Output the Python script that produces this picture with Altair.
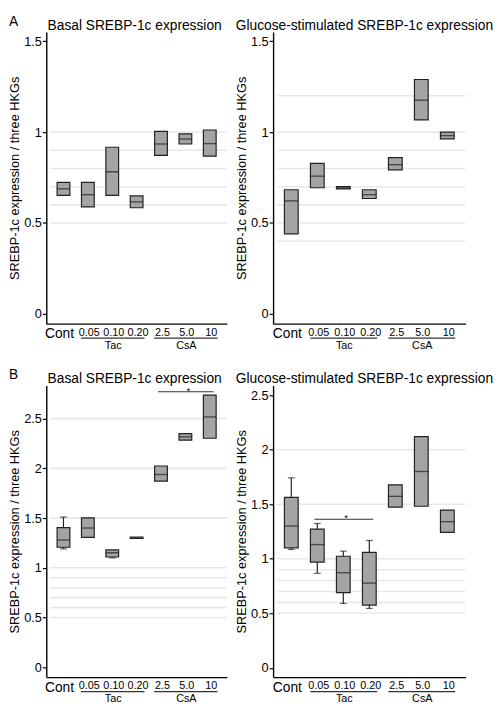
import altair as alt
import pandas as pd

FONT = "Liberation Sans"

categories = ["Cont", "0.05", "0.10", "0.20", "2.5", "5.0", "10"]
dose_labels = ["0.05", "0.10", "0.20", "2.5", "5.0", "10"]
group_names = ["Tac", "CsA"]
group_start = ["0.05", "2.5"]
group_mid = ["0.10", "5.0"]
group_end = ["0.20", "10"]

y_title = "SREBP-1c expression / three HKGs"

# Panel A - basal
a_basal_lower = [0.652, 0.589, 0.652, 0.584, 0.872, 0.935, 0.868]
a_basal_median = [0.688, 0.656, 0.782, 0.616, 0.935, 0.962, 0.937]
a_basal_upper = [0.724, 0.724, 0.917, 0.649, 1.004, 0.991, 1.012]
a_basal_wlo = [None] * 7
a_basal_whi = [None] * 7

# Panel A - glucose-stimulated
a_gluc_lower = [0.440, 0.694, 0.688, 0.635, 0.792, 1.068, 0.963]
a_gluc_median = [0.622, 0.758, 0.693, 0.656, 0.821, 1.176, 0.981]
a_gluc_upper = [0.683, 0.828, 0.700, 0.683, 0.860, 1.290, 1.000]
a_gluc_wlo = [None] * 7
a_gluc_whi = [None] * 7

# Panel B - basal
b_basal_lower = [1.207, 1.306, 1.109, 1.295, 1.872, 2.284, 2.303]
b_basal_median = [1.280, 1.400, 1.152, 1.300, 1.938, 2.317, 2.517]
b_basal_upper = [1.405, 1.503, 1.180, 1.310, 2.024, 2.350, 2.737]
b_basal_wlo = [1.190, None, 1.100, None, None, None, None]
b_basal_whi = [1.510, None, None, None, None, None, None]

# Panel B - glucose-stimulated
b_gluc_lower = [1.100, 0.969, 0.690, 0.575, 1.473, 1.481, 1.241]
b_gluc_median = [1.300, 1.130, 0.872, 0.777, 1.572, 1.800, 1.340]
b_gluc_upper = [1.562, 1.272, 1.023, 1.058, 1.677, 2.120, 1.446]
b_gluc_wlo = [1.085, 0.866, 0.590, 0.545, None, None, None]
b_gluc_whi = [1.742, 1.323, 1.070, 1.167, None, None, None]

# Significance bars (start, end, y)
b_basal_sig = ("2.5", "10", 2.77)
b_gluc_sig = ("0.05", "0.20", 1.362)

ticks_a = [0, 0.5, 1, 1.5]
ticks_b = [0, 0.5, 1, 1.5, 2, 2.5]
grid_a_basal = [0.5, 0.6, 0.7, 0.8, 0.9, 1.0]
grid_a_gluc = [0.4, 0.5, 0.6, 0.7, 0.8, 0.9, 1.0, 1.2]
grid_b_basal = [0.5, 0.6, 0.7, 0.8, 0.9, 1.0, 1.5, 2.0, 2.5]
grid_b_gluc = [0.5, 0.6, 0.7, 0.8, 0.9, 1.0, 1.5, 2.0]

H = 297
BOX_FILL = "#a4a4a4"
DARK = "#222222"


def panel(title, lower, median, upper, wlo, whi, ydomain, yticks, grid, width,
          pad, boxw, letter=None, sig=None, title_dx=0):
    df = pd.DataFrame({"cat": categories, "lower": lower, "median": median, "upper": upper})
    xs = alt.Scale(type="point", domain=categories, padding=pad)
    ys = alt.Scale(domain=ydomain, nice=False, zero=False)
    xax = alt.Axis(labels=False, ticks=False, title=None, grid=False,
                   domainColor="black", domainWidth=1.4)
    yax = alt.Axis(values=yticks, format="~g", title=y_title, grid=False,
                   tickSize=4, tickColor="black", tickWidth=1.2,
                   domainColor="black", domainWidth=1.4,
                   labelFont=FONT, labelFontSize=13, labelColor="black", labelPadding=1,
                   titleFont=FONT, titleFontSize=13, titleFontWeight="normal",
                   titleColor="black", titlePadding=2)

    def X(field):
        return alt.X(field, type="nominal", scale=xs, axis=xax)

    def Y(field):
        return alt.Y(field, type="quantitative", scale=ys, axis=yax)

    grid_df = pd.DataFrame({"g": grid})
    layers = [
        alt.Chart(grid_df).mark_rule(color="#e8e8e8", strokeWidth=1.6).encode(
            x=alt.value(4), x2=alt.value(width), y=Y("g")),
        alt.Chart(df).mark_point(opacity=0).encode(x=X("cat"), y=Y("median")),
    ]

    hi_df = pd.DataFrame({"cat": categories, "w": whi, "b": upper}).dropna()
    lo_df = pd.DataFrame({"cat": categories, "w": wlo, "b": lower}).dropna()
    for wdf in (hi_df, lo_df):
        if len(wdf):
            layers.append(alt.Chart(wdf).mark_rule(color=DARK, strokeWidth=1.2).encode(
                x=X("cat"), y=Y("w"), y2="b:Q"))
            layers.append(alt.Chart(wdf).mark_tick(color=DARK, size=7, thickness=1.2).encode(
                x=X("cat"), y=Y("w")))

    layers.append(alt.Chart(df).mark_bar(width=boxw, fill=BOX_FILL, stroke=DARK,
                                         strokeWidth=1.2).encode(
        x=X("cat"), y=Y("lower"), y2="upper:Q"))
    layers.append(alt.Chart(df).mark_tick(color=DARK, size=boxw, thickness=1.4).encode(
        x=X("cat"), y=Y("median")))

    # category labels under the axis
    cont_df = pd.DataFrame({"cat": [categories[0]]})
    dose_df = pd.DataFrame({"cat": dose_labels})
    layers.append(alt.Chart(cont_df).mark_text(font=FONT, fontSize=14, color="black",
                                               baseline="alphabetic", dx=-4).encode(
        x=X("cat"), y=alt.value(H + 15), text="cat:N"))
    layers.append(alt.Chart(dose_df).mark_text(font=FONT, fontSize=11, color="black",
                                               baseline="alphabetic", dx=1.5).encode(
        x=X("cat"), y=alt.value(H + 12.5), text="cat:N"))
    grp_df = pd.DataFrame({"name": group_names, "start": group_start,
                           "mid": group_mid, "end": group_end})
    layers.append(alt.Chart(grp_df).mark_rule(color="#333333", strokeWidth=1.3,
                                              xOffset=-7, x2Offset=8).encode(
        x=X("start"), x2="end:N", y=alt.value(H + 14.7)))
    layers.append(alt.Chart(grp_df).mark_text(font=FONT, fontSize=11, color="black",
                                              baseline="alphabetic", dx=1).encode(
        x=X("mid"), y=alt.value(H + 25.5), text="name:N"))

    if sig is not None:
        sig_df = pd.DataFrame({"start": [sig[0]], "end": [sig[1]], "yv": [sig[2]]})
        layers.append(alt.Chart(sig_df).mark_rule(color="#333333", strokeWidth=1.2,
                                                  xOffset=-3, x2Offset=4).encode(
            x=X("start"), x2="end:N", y=Y("yv")))
        mid_cat = categories[(categories.index(sig[0]) + categories.index(sig[1])) // 2]
        star_df = pd.DataFrame({"cat": [mid_cat], "yv": [sig[2]], "s": ["*"]})
        layers.append(alt.Chart(star_df).mark_text(font=FONT, fontSize=10, color="black",
                                                   dy=-1, dx=3).encode(
            x=X("cat"), y=Y("yv"), text="s:N"))

    # panel title
    ttl_df = pd.DataFrame({"t": [title]})
    layers.append(alt.Chart(ttl_df).mark_text(font=FONT, fontSize=14, color="black",
                                              align="center", baseline="alphabetic").encode(
        x=alt.value(width / 2 + title_dx), y=alt.value(-2.5), text="t:N"))

    if letter is not None:
        let_df = pd.DataFrame({"t": [letter]})
        layers.append(alt.Chart(let_df).mark_text(font=FONT, fontSize=14, color="black",
                                                  align="left", baseline="alphabetic").encode(
            x=alt.value(-38), y=alt.value(-6.5), text="t:N"))

    return alt.layer(*layers).properties(width=width, height=H)


a_left = panel("Basal SREBP-1c expression", a_basal_lower, a_basal_median, a_basal_upper,
               a_basal_wlo, a_basal_whi, [-0.054, 1.551], ticks_a, grid_a_basal, 184, 0.705, 13,
               letter="A", title_dx=-2)
a_right = panel("Glucose-stimulated SREBP-1c expression", a_gluc_lower, a_gluc_median,
                a_gluc_upper, a_gluc_wlo, a_gluc_whi, [-0.054, 1.551], ticks_a, grid_a_gluc,
                196, 0.70, 14, title_dx=-5)
b_left = panel("Basal SREBP-1c expression", b_basal_lower, b_basal_median, b_basal_upper,
               b_basal_wlo, b_basal_whi, [-0.099, 2.833], ticks_b, grid_b_basal, 184, 0.705, 13,
               letter="B", sig=b_basal_sig, title_dx=-2)
b_right = panel("Glucose-stimulated SREBP-1c expression", b_gluc_lower, b_gluc_median,
                b_gluc_upper, b_gluc_wlo, b_gluc_whi, [-0.085, 2.588], ticks_b, grid_b_gluc,
                196, 0.70, 14, sig=b_gluc_sig, title_dx=-5)

chart = alt.concat(
    a_left, a_right, b_left, b_right, columns=2,
    spacing=alt.RowColnumber(row=63, column=47), bounds="flush",
).properties(
    padding={"left": 0, "top": 0, "right": 0, "bottom": 0}
).configure(font=FONT).configure_view(stroke=None)

chart.save("out.html", embed_options={"renderer": "svg", "actions": False})
